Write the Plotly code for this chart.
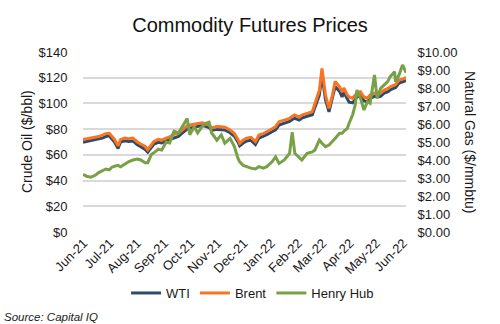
import plotly.graph_objects as go

# Trading dates sampled across the year
dates = [
    "2021-05-31", "2021-06-04", "2021-06-09", "2021-06-14", "2021-06-18", "2021-06-23",
    "2021-06-26", "2021-06-30", "2021-07-03", "2021-07-06", "2021-07-10", "2021-07-13",
    "2021-07-18", "2021-07-22", "2021-07-27", "2021-08-01", "2021-08-05", "2021-08-10",
    "2021-08-13", "2021-08-17", "2021-08-20", "2021-08-25", "2021-08-29", "2021-09-03",
    "2021-09-07", "2021-09-12", "2021-09-17", "2021-09-21", "2021-09-27", "2021-09-30",
    "2021-10-05", "2021-10-09", "2021-10-14", "2021-10-19", "2021-10-22", "2021-10-25",
    "2021-10-31", "2021-11-05", "2021-11-09", "2021-11-15", "2021-11-20", "2021-11-24",
    "2021-11-26", "2021-11-30", "2021-12-04", "2021-12-09", "2021-12-14", "2021-12-18",
    "2021-12-23", "2021-12-27", "2022-01-02", "2022-01-06", "2022-01-10", "2022-01-16",
    "2022-01-22", "2022-01-25", "2022-01-28", "2022-02-02", "2022-02-05", "2022-02-11",
    "2022-02-17", "2022-02-20", "2022-02-25", "2022-02-28", "2022-03-04", "2022-03-08",
    "2022-03-12", "2022-03-15", "2022-03-20", "2022-03-23", "2022-03-25", "2022-03-29",
    "2022-03-31", "2022-04-04", "2022-04-07", "2022-04-09", "2022-04-13", "2022-04-17",
    "2022-04-21", "2022-04-24", "2022-04-29", "2022-05-02", "2022-05-06", "2022-05-10",
    "2022-05-14", "2022-05-17", "2022-05-22", "2022-05-23", "2022-05-27", "2022-05-31",
    "2022-06-03", "2022-06-04",
]

# Crude oil, $/bbl
wti = [
    69.8, 70.3, 71.0, 71.8, 72.0, 73.2, 74.3, 74.8, 72.4, 70.0, 65.0, 70.0,
    71.0, 70.4, 70.8, 67.8, 66.3, 64.2, 62.0, 65.3, 68.3, 69.8, 69.2, 70.8,
    71.8, 73.6, 74.4, 76.7, 80.0, 80.8, 81.6, 82.2, 82.8, 82.0, 81.3, 79.0,
    79.8, 79.5, 79.3, 77.2, 74.5, 70.0, 67.0, 69.2, 70.8, 71.3, 68.0, 73.0,
    74.2, 75.7, 78.0, 79.5, 83.2, 84.7, 86.0, 87.5, 88.4, 87.0, 88.6, 90.0,
    91.2, 97.0, 106.5, 122.0, 103.0, 93.5, 103.5, 113.0, 109.5, 105.0, 108.5, 103.0,
    101.0, 100.5, 103.5, 105.0, 106.0, 102.0, 101.5, 104.0, 105.5, 105.0, 105.5, 108.0,
    109.0, 110.5, 112.0, 112.2, 115.8, 116.8, 117.5, 118.5,
]
brent = [
    72.0, 72.5, 73.3, 74.0, 74.2, 75.5, 76.5, 76.8, 74.5, 72.0, 67.0, 72.0,
    73.0, 72.5, 73.0, 70.0, 68.5, 66.5, 64.0, 67.5, 70.5, 72.0, 71.5, 73.0,
    74.0, 76.0, 76.7, 79.0, 82.5, 83.2, 84.0, 84.5, 85.0, 84.0, 83.2, 81.0,
    82.0, 81.9, 81.5, 79.3, 76.7, 72.0, 69.0, 71.5, 73.0, 73.6, 70.3, 75.4,
    76.5, 78.0, 80.5, 81.9, 85.8, 87.1, 88.4, 90.0, 91.0, 89.2, 91.0, 92.3,
    93.6, 100.0, 110.0, 127.3, 106.5, 96.2, 106.5, 117.0, 113.0, 109.0, 112.0, 106.5,
    105.0, 104.0, 106.5, 108.0, 109.0, 105.0, 104.0, 106.5, 108.0, 107.5, 108.0, 110.4,
    111.5, 113.0, 114.3, 114.5, 118.2, 119.0, 119.5, 120.8,
]
# Natural gas, $/mmbtu
henry_hub = [
    3.20, 3.10, 3.05, 3.15, 3.30, 3.40, 3.50, 3.45, 3.60, 3.65, 3.70, 3.62,
    3.80, 3.90, 4.00, 4.05, 4.00, 3.85, 3.85, 4.30, 4.40, 4.60, 4.55, 5.00,
    4.95, 5.60, 5.50, 5.85, 6.30, 5.40, 5.85, 5.50, 5.85, 6.05, 6.10, 5.50,
    5.10, 5.40, 4.93, 5.20, 4.75, 4.10, 3.90, 3.70, 3.62, 3.55, 3.50, 3.63,
    3.55, 3.63, 3.90, 4.18, 3.81, 4.00, 4.37, 5.55, 4.37, 4.10, 4.00, 4.37,
    4.45, 4.56, 5.11, 4.93, 4.74, 4.83, 5.02, 5.20, 5.48, 5.48, 5.60, 5.76,
    6.04, 6.50, 7.06, 7.89, 7.43, 6.78, 7.24, 7.15, 8.72, 7.43, 7.98, 8.17,
    8.35, 8.63, 8.91, 8.35, 8.72, 9.28, 8.91, 8.85,
]

oil_ticks = [0, 20, 40, 60, 80, 100, 120, 140]
gas_ticks = [0, 1, 2, 3, 4, 5, 6, 7, 8, 9, 10]
month_ticks = [
    "2021-06-01", "2021-07-01", "2021-08-01", "2021-09-01", "2021-10-01",
    "2021-11-01", "2021-12-01", "2022-01-01", "2022-02-01", "2022-03-01",
    "2022-04-01", "2022-05-01", "2022-06-01",
]

FONT = "Liberation Sans, Arial, sans-serif"
GRID = "#d9d9d9"

fig = go.Figure()
fig.add_trace(go.Scatter(x=dates, y=wti, name="WTI", mode="lines",
                         line=dict(color="#2E4B6D", width=3)))
fig.add_trace(go.Scatter(x=dates, y=brent, name="Brent", mode="lines",
                         line=dict(color="#FA7420", width=3)))
fig.add_trace(go.Scatter(x=dates, y=henry_hub, name="Henry Hub", mode="lines",
                         yaxis="y2", line=dict(color="#77A047", width=3)))

fig.update_layout(
    width=500, height=324,
    margin=dict(l=83, r=94, t=52, b=92),
    paper_bgcolor="white", plot_bgcolor="white",
    font=dict(family=FONT, size=13, color="#1a1a1a"),
    title=dict(text="Commodity Futures Prices", x=0.5, xanchor="center",
               y=1 - 25 / 324, yanchor="middle",
               font=dict(family=FONT, size=20, color="#111111")),
    xaxis=dict(
        type="date", range=["2021-05-31", "2022-06-04"],
        tickvals=month_ticks,
        tickformat="%b-%y", tickangle=-45, showgrid=False, zeroline=False,
        showline=False, ticks="", tickfont=dict(size=13),
    ),
    yaxis=dict(
        range=[0, 140], tickvals=oil_ticks,
        ticktext=[f"${v}" for v in oil_ticks],
        gridcolor=GRID, gridwidth=1.5, zeroline=False, showline=False,
        ticks="outside", ticklen=12, tickcolor="rgba(0,0,0,0)",
        tickfont=dict(size=13),
    ),
    yaxis2=dict(
        range=[0, 10], tickvals=gas_ticks,
        ticktext=[f"${v:.2f}" for v in gas_ticks],
        overlaying="y", side="right", showgrid=False, zeroline=False,
        showline=False, ticks="outside", ticklen=8, tickcolor="rgba(0,0,0,0)",
        tickfont=dict(size=13),
    ),
    legend=dict(orientation="h", x=0.525, xanchor="center", y=-0.339,
                yanchor="middle", font=dict(size=13), bgcolor="rgba(0,0,0,0)",
                itemwidth=30),
    showlegend=True,
)

fig.add_annotation(text="Crude Oil ($/bbl)", xref="paper", yref="paper",
                   x=-(83 - 27) / 323, y=0.5, xanchor="center", yanchor="middle",
                   textangle=-90, showarrow=False, font=dict(size=14))
fig.add_annotation(text="Natural Gas ($/mmbtu)", xref="paper", yref="paper",
                   x=1 + (470 - 406) / 323, y=0.5, xanchor="center", yanchor="middle",
                   textangle=90, showarrow=False, font=dict(size=14))
fig.add_annotation(text="<i>Source: Capital IQ</i>", xref="paper", yref="paper",
                   x=-(83 - 2) / 323, y=(232 - 317) / 180, xanchor="left",
                   yanchor="middle", showarrow=False,
                   font=dict(size=11.5, color="#1a1a1a"))

fig.write_html("out.html")
